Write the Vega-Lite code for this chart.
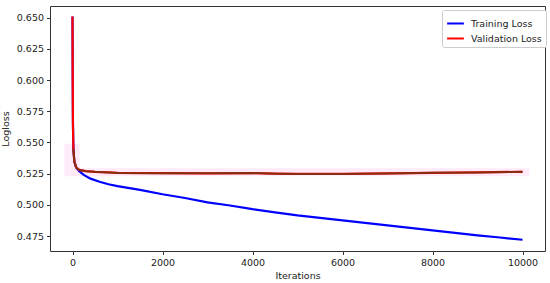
{
  "$schema": "https://vega.github.io/schema/vega-lite/v6.json",
  "autosize": "none",
  "width": 495,
  "height": 245,
  "padding": {"left": 50, "top": 6, "right": 5, "bottom": 32},
  "background": "white",
  "config": {
    "view": {"stroke": "#333333", "strokeWidth": 1},
    "font": "DejaVu Sans",
    "axis": {"domain": false, "grid": false, "tickColor": "#333333", "tickSize": 3.5, "labelFontSize": 9.5, "labelColor": "#222222", "titleFontSize": 9.5, "titleFontWeight": "normal", "titleColor": "#222222", "labelFont": "DejaVu Sans", "titleFont": "DejaVu Sans", "labelOverlap": false}
  },
  "datasets": {
    "loss": [
      {"iteration": 0, "loss": 0.651, "series": "Training Loss"},
      {"iteration": 5, "loss": 0.6, "series": "Training Loss"},
      {"iteration": 10, "loss": 0.565, "series": "Training Loss"},
      {"iteration": 20, "loss": 0.545, "series": "Training Loss"},
      {"iteration": 40, "loss": 0.535, "series": "Training Loss"},
      {"iteration": 80, "loss": 0.53, "series": "Training Loss"},
      {"iteration": 150, "loss": 0.527, "series": "Training Loss"},
      {"iteration": 250, "loss": 0.524, "series": "Training Loss"},
      {"iteration": 400, "loss": 0.521, "series": "Training Loss"},
      {"iteration": 600, "loss": 0.5185, "series": "Training Loss"},
      {"iteration": 800, "loss": 0.5165, "series": "Training Loss"},
      {"iteration": 1000, "loss": 0.515, "series": "Training Loss"},
      {"iteration": 1500, "loss": 0.512, "series": "Training Loss"},
      {"iteration": 2000, "loss": 0.5085, "series": "Training Loss"},
      {"iteration": 2500, "loss": 0.5055, "series": "Training Loss"},
      {"iteration": 3000, "loss": 0.502, "series": "Training Loss"},
      {"iteration": 3500, "loss": 0.4995, "series": "Training Loss"},
      {"iteration": 4000, "loss": 0.4965, "series": "Training Loss"},
      {"iteration": 4500, "loss": 0.494, "series": "Training Loss"},
      {"iteration": 5000, "loss": 0.4915, "series": "Training Loss"},
      {"iteration": 5500, "loss": 0.4895, "series": "Training Loss"},
      {"iteration": 6000, "loss": 0.4875, "series": "Training Loss"},
      {"iteration": 6500, "loss": 0.4855, "series": "Training Loss"},
      {"iteration": 7000, "loss": 0.4835, "series": "Training Loss"},
      {"iteration": 7500, "loss": 0.4815, "series": "Training Loss"},
      {"iteration": 8000, "loss": 0.4795, "series": "Training Loss"},
      {"iteration": 8500, "loss": 0.4775, "series": "Training Loss"},
      {"iteration": 9000, "loss": 0.4755, "series": "Training Loss"},
      {"iteration": 9500, "loss": 0.4738, "series": "Training Loss"},
      {"iteration": 10000, "loss": 0.472, "series": "Training Loss"},
      {"iteration": 0, "loss": 0.651, "series": "Validation Loss"},
      {"iteration": 5, "loss": 0.6, "series": "Validation Loss"},
      {"iteration": 10, "loss": 0.565, "series": "Validation Loss"},
      {"iteration": 20, "loss": 0.545, "series": "Validation Loss"},
      {"iteration": 40, "loss": 0.535, "series": "Validation Loss"},
      {"iteration": 80, "loss": 0.53, "series": "Validation Loss"},
      {"iteration": 150, "loss": 0.528, "series": "Validation Loss"},
      {"iteration": 300, "loss": 0.527, "series": "Validation Loss"},
      {"iteration": 500, "loss": 0.5265, "series": "Validation Loss"},
      {"iteration": 800, "loss": 0.526, "series": "Validation Loss"},
      {"iteration": 1000, "loss": 0.5256, "series": "Validation Loss"},
      {"iteration": 2000, "loss": 0.5254, "series": "Validation Loss"},
      {"iteration": 3000, "loss": 0.5253, "series": "Validation Loss"},
      {"iteration": 4000, "loss": 0.5255, "series": "Validation Loss"},
      {"iteration": 4500, "loss": 0.525, "series": "Validation Loss"},
      {"iteration": 5000, "loss": 0.5248, "series": "Validation Loss"},
      {"iteration": 6000, "loss": 0.5248, "series": "Validation Loss"},
      {"iteration": 7000, "loss": 0.5252, "series": "Validation Loss"},
      {"iteration": 8000, "loss": 0.5257, "series": "Validation Loss"},
      {"iteration": 9000, "loss": 0.526, "series": "Validation Loss"},
      {"iteration": 10000, "loss": 0.5265, "series": "Validation Loss"}
    ],
    "band": [
      {"iteration": -180, "loss": 0.523, "hi": 0.549},
      {"iteration": 160, "loss": 0.523, "hi": 0.549},
      {"iteration": 160, "loss": 0.523, "hi": 0.5294},
      {"iteration": 10150, "loss": 0.523, "hi": 0.5294}
    ]
  },
  "encoding": {
    "x": {"field": "iteration", "type": "quantitative", "title": "Iterations",
          "scale": {"domain": [-500, 10500], "nice": false, "zero": false},
          "axis": {"values": [0, 2000, 4000, 6000, 8000, 10000], "format": "d", "labelPadding": 3, "titlePadding": 3, "labelOverlap": false}},
    "y": {"field": "loss", "type": "quantitative", "title": "Logloss",
          "scale": {"domain": [0.4630, 0.6594], "nice": false, "zero": false},
          "axis": {"values": [0.475, 0.500, 0.525, 0.550, 0.575, 0.600, 0.625, 0.650], "format": ".3f", "labelPadding": 3, "titlePadding": 6, "labelOverlap": false}}
  },
  "layer": [
    {
      "data": {"name": "band"},
      "mark": {"type": "area", "color": "#ff33cc", "opacity": 0.1},
      "encoding": {
        "y2": {"field": "hi"}
      }
    },
    {
      "data": {"name": "loss"},
      "mark": {"type": "line", "strokeWidth": 2.2},
      "encoding": {
        "color": {"field": "series", "type": "nominal",
                  "scale": {"domain": ["Training Loss", "Validation Loss"], "range": ["#0000ff", "#ff0000"]},
                  "legend": {"title": null, "orient": "none", "legendX": 392, "legendY": 4, "symbolType": "stroke", "symbolStrokeWidth": 2, "symbolSize": 280, "labelFontSize": 9.5, "labelFont": "DejaVu Sans", "labelColor": "#222222", "strokeColor": "#cccccc", "fillColor": "white", "padding": 4, "cornerRadius": 2, "rowPadding": 1, "labelOffset": 6}},
        "order": {"field": "iteration", "type": "quantitative"}
      }
    },
    {
      "data": {"name": "loss"},
      "transform": [{"filter": "datum.series == 'Validation Loss' && datum.loss < 0.55"}],
      "mark": {"type": "line", "strokeWidth": 2, "stroke": "#7a3212", "opacity": 0.9}
    }
  ]
}
